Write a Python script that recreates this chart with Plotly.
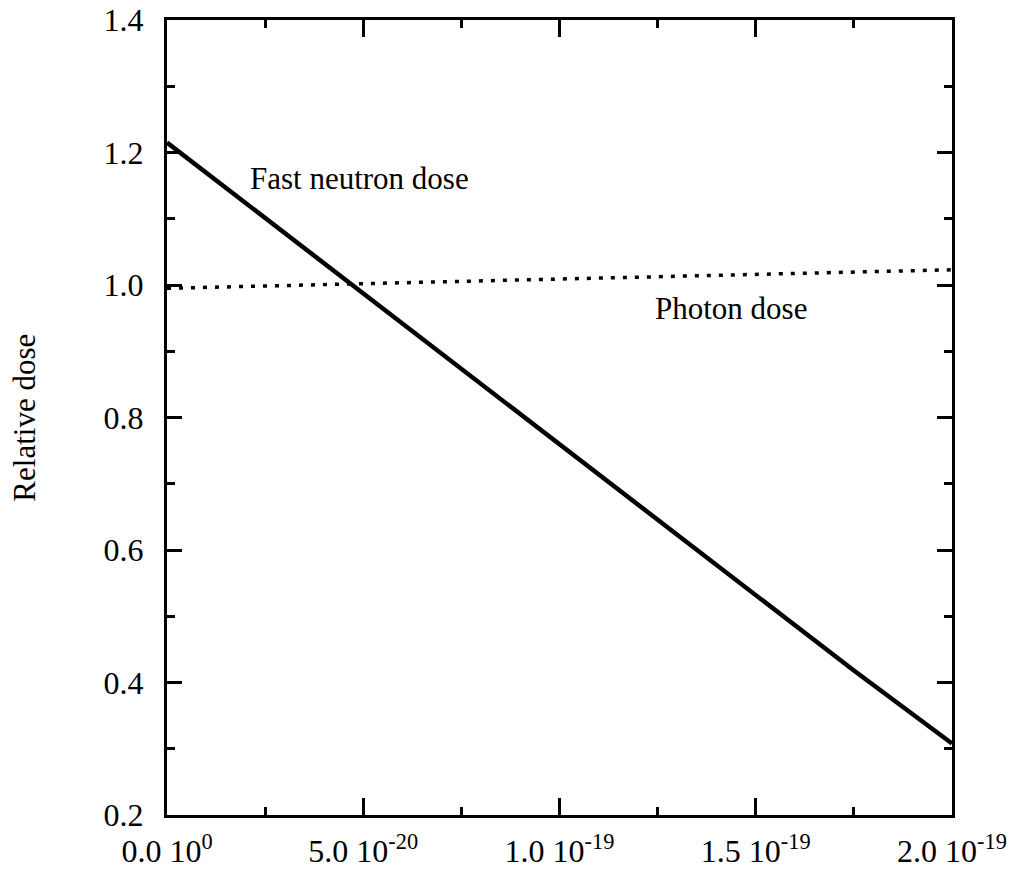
import plotly.graph_objects as go

# Data
x_vals = [0.0, 2.5e-20, 5.0e-20, 7.5e-20, 1.0e-19, 1.25e-19, 1.5e-19, 1.75e-19, 2.0e-19]
fast_neutron = [1.215, 1.101, 0.987, 0.872, 0.758, 0.644, 0.530, 0.418, 0.308]
photon_x = [0.0, 1.0e-19, 2.0e-19]
photon = [0.995, 1.009, 1.023]

x_tickvals = [0.0, 5.0e-20, 1.0e-19, 1.5e-19, 2.0e-19]
x_ticktext = ["0.0 10<sup>0</sup>", "5.0 10<sup>-20</sup>", "1.0 10<sup>-19</sup>",
              "1.5 10<sup>-19</sup>", "2.0 10<sup>-19</sup>"]
y_tickvals = [0.2, 0.4, 0.6, 0.8, 1.0, 1.2, 1.4]

FONT = "Liberation Serif, Times New Roman, serif"

fig = go.Figure()
fig.add_trace(go.Scatter(x=x_vals, y=fast_neutron, mode="lines",
                         line=dict(color="black", width=4.5), showlegend=False))
fig.add_trace(go.Scatter(x=photon_x, y=photon, mode="lines",
                         line=dict(color="black", width=3.5, dash="4px,8px"), showlegend=False))

fig.add_annotation(x=2.06e-20, y=1.161, xref="x", yref="y", text="Fast neutron dose",
                   showarrow=False, xanchor="left", yanchor="middle",
                   font=dict(family=FONT, size=31, color="black"))
fig.add_annotation(x=1.437e-19, y=0.965, xref="x", yref="y", text="Photon dose",
                   showarrow=False, xanchor="center", yanchor="middle",
                   font=dict(family=FONT, size=31, color="black"))
fig.add_annotation(x=-0.182, y=0.5, xref="paper", yref="paper", text="Relative dose",
                   textangle=-90, showarrow=False, xanchor="center", yanchor="middle",
                   font=dict(family=FONT, size=31, color="black"))

fig.update_xaxes(range=[0, 2.0e-19], tickmode="array", tickvals=x_tickvals, ticktext=x_ticktext,
                 ticks="inside", ticklen=17, tickwidth=3, tickcolor="black",
                 showline=True, linecolor="black", linewidth=3, mirror="allticks",
                 showgrid=False, zeroline=False, automargin=False, ticklabelstandoff=6,
                 minor=dict(tickmode="linear", tick0=0, dtick=2.5e-20, ticks="inside",
                            ticklen=8, tickwidth=3, tickcolor="black", showgrid=False),
                 tickfont=dict(family=FONT, size=32, color="black"))
fig.update_yaxes(range=[0.2, 1.4], tickmode="array", tickvals=y_tickvals,
                 ticktext=[f"{v:.1f}" for v in y_tickvals],
                 ticks="inside", ticklen=15, tickwidth=3, tickcolor="black",
                 showline=True, linecolor="black", linewidth=3, mirror="allticks",
                 showgrid=False, zeroline=False, automargin=False, ticklabelstandoff=14,
                 minor=dict(tickmode="linear", tick0=0.2, dtick=0.1, ticks="inside",
                            ticklen=8, tickwidth=3, tickcolor="black", showgrid=False),
                 tickfont=dict(family=FONT, size=32, color="black"))

fig.update_layout(width=1017, height=877, plot_bgcolor="white", paper_bgcolor="white",
                  margin=dict(l=167, r=65, t=20, b=62))

fig.write_html("out.html")
